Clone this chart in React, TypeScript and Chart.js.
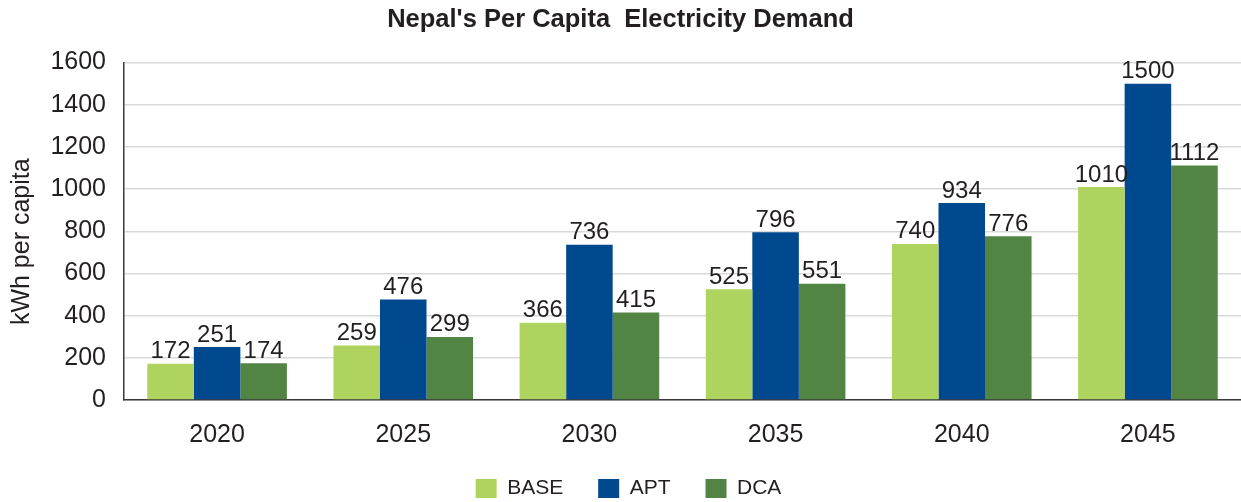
import React, { useEffect, useRef } from "react";
import { Chart, registerables } from "chart.js";

Chart.register(...registerables);

const categories = ["2020", "2025", "2030", "2035", "2040", "2045"];
const baseValues = [172, 259, 366, 525, 740, 1010];
const aptValues = [251, 476, 736, 796, 934, 1500];
const dcaValues = [174, 299, 415, 551, 776, 1112];
const seriesNames = ["BASE", "APT", "DCA"];
const seriesColors = ["#afd35f", "#00498f", "#528444"];
const yTicks = [0, 200, 400, 600, 800, 1000, 1200, 1400, 1600];

const FONT = "'Liberation Sans', Arial, Helvetica, sans-serif";
const TEXT = "#231f20";

const dataLabelPlugin = {
  id: "dataLabels",
  afterDatasetsDraw(chart: any) {
    const ctx = chart.ctx;
    ctx.save();
    ctx.font = `24px ${FONT}`;
    ctx.fillStyle = TEXT;
    ctx.textAlign = "center";
    ctx.textBaseline = "alphabetic";
    chart.data.datasets.forEach((ds: any, i: number) => {
      const meta = chart.getDatasetMeta(i);
      meta.data.forEach((bar: any, j: number) => {
        ctx.fillText(String(ds.data[j]), bar.x, bar.y - 5.5);
      });
    });
    ctx.restore();
  },
};

const legendSizePlugin = {
  id: "legendSize",
  beforeInit(chart: any) {
    const lg = chart.legend;
    if (!lg) return;
    const origFit = lg.fit;
    lg.fit = function () {
      origFit.call(this);
      this.height = 59;
    };
  },
  afterLayout(chart: any) {
    const lg = chart.legend;
    if (!lg) return;
    lg.left += 8;
    lg.right += 8;
  },
};

export default function App() {
  const ref = useRef<HTMLCanvasElement | null>(null);
  useEffect(() => {
    if (!ref.current) return;
    const chart = new Chart(ref.current, {
      type: "bar",
      data: {
        labels: categories,
        datasets: [baseValues, aptValues, dcaValues].map((d, i) => ({
          label: seriesNames[i],
          data: d,
          backgroundColor: seriesColors[i],
          borderWidth: 0,
          categoryPercentage: 0.75,
          barPercentage: 1.0,
        })),
      },
      options: {
        responsive: false,
        animation: false,
        layout: { padding: { left: 0, right: 0, top: 0, bottom: 0 } },
        plugins: {
          title: {
            display: true,
            text: "Nepal's Per Capita  Electricity Demand",
            color: TEXT,
            font: { family: FONT, size: 25.5, weight: "bold" },
            padding: { top: 5, bottom: 27 },
          },
          legend: {
            display: true,
            position: "bottom",
            labels: {
              boxWidth: 21,
              boxHeight: 19,
              padding: 35,
              color: TEXT,
              font: { family: FONT, size: 21 },
            },
          },
          tooltip: { enabled: false },
        },
        scales: {
          x: {
            grid: { display: false },
            border: { display: true, color: "#3a3a3a", width: 1.5 },
            ticks: { color: TEXT, font: { family: FONT, size: 25 }, padding: 12 },
            afterFit(s: any) {
              s.height = 43;
            },
          },
          y: {
            min: 0,
            max: 1600,
            afterBuildTicks(s: any) {
              s.ticks = yTicks.map((v) => ({ value: v }));
            },
            grid: { color: "#d9d9d9", lineWidth: 1.5, drawTicks: false },
            border: { display: true, color: "#3a3a3a", width: 1.5 },
            ticks: {
              color: TEXT,
              font: { family: FONT, size: 25 },
              padding: 18,
              callback: (v: any) => String(v),
            },
            title: {
              display: true,
              text: "kWh per capita   ",
              color: TEXT,
              font: { family: FONT, size: 25 },
              padding: { top: 7, bottom: 0 },
            },
            afterFit(s: any) {
              s.width = 124;
            },
          },
        },
      },
      plugins: [dataLabelPlugin, legendSizePlugin],
    });
    return () => chart.destroy();
  }, []);
  return (
    <div style={{ position: "absolute", left: 0, top: 0, width: 1241, height: 502, background: "#fff" }}>
      <canvas ref={ref} width={1241} height={502} />
    </div>
  );
}
